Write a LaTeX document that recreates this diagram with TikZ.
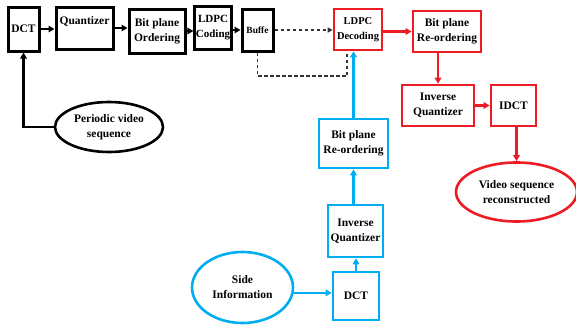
\documentclass[tikz,border=0pt]{standalone}
\usepackage{fontspec}
\setmainfont{Liberation Serif}
\usetikzlibrary{arrows.meta,positioning,shapes.geometric}
\definecolor{decred}{RGB}{237,28,36}
\definecolor{sideblue}{RGB}{0,174,239}

\begin{document}
\begin{tikzpicture}[x=1pt,y=-1pt,
  blk/.style={draw, line width=3pt, inner sep=1pt, align=center, font=\bfseries\fontsize{11.5}{15}\selectfont},
  rbox/.style={blk, draw=decred, line width=2.6pt},
  sibox/.style={blk, draw=sideblue, line width=2.6pt},
  oval/.style={blk, ellipse, line width=2.6pt},
  arr/.style={-{Triangle[length=6pt,width=6.5pt]}, line width=2.3pt},
  dash line/.style={dash pattern=on 3.5pt off 2.5pt, line width=1.2pt, draw=black!80, -{Triangle[length=5pt,width=5pt]}}]
\useasboundingbox (0,0) rectangle (576,327);
% encoder
\node [blk, minimum width=31, minimum height=44] (dct) at (23.5,29) {DCT};
\node [blk, minimum width=57, minimum height=42, text depth=14pt] (quant) at (84.5,28) {Quantizer};
\node [blk, minimum width=56, minimum height=44] (bpo) at (157,31) {Bit plane\\Ordering};
\node [blk, minimum width=36, minimum height=43, font=\bfseries\fontsize{11}{15}\selectfont] (ldpcc) at (213,27.5) {LDPC\\Coding};
\node [blk, minimum width=31, minimum height=42, font=\bfseries\fontsize{9.5}{12}\selectfont] (buf) at (257.5,30) {Buffe};
\node [oval, minimum width=108, minimum height=50] (pvs) at (109,127) {Periodic video\\sequence};
% decoder
\node [rbox, minimum width=48, minimum height=41, font=\bfseries\fontsize{10.5}{15}\selectfont] (ldpcd) at (358,29.5) {LDPC\\Decoding};
\node [rbox, minimum width=68, minimum height=41] (bpr) at (447,31.5) {Bit plane\\Re-ordering};
\node [rbox, minimum width=72, minimum height=41] (iq) at (438,105.5) {Inverse\\Quantizer};
\node [rbox, minimum width=45, minimum height=41] (idct) at (513.5,105.5) {IDCT};
\node [oval, draw=decred, minimum width=121, minimum height=59] (vsr) at (516.5,192) {Video sequence\\reconstructed};
% side information
\node [sibox, minimum width=69, minimum height=49] (bpr2) at (353.5,143.5) {Bit plane\\Re-ordering};
\node [sibox, minimum width=55, minimum height=52] (iq2) at (355.5,231) {Inverse\\Quantizer};
\node [sibox, minimum width=46, minimum height=48] (dct2) at (356,296) {DCT};
\node [oval, draw=sideblue, minimum width=101, minimum height=71] (side) at (242.5,287.5) {Side\\Information};
\coordinate (bufloop) at (347,76);

\draw [arr] (pvs.west) -| (dct.south);
\draw [arr] (dct.east) -- (dct.east -| quant.west);
\draw [arr] (quant.east) -- (quant.east -| bpo.west);
\draw [arr] (bpo.east) -- (bpo.east -| ldpcc.west);
\draw [arr] (buf.west -| ldpcc.east) -- (buf.west);
\draw [dash line] (buf.east) -- (buf.east -| ldpcd.west);
\draw [dash line, -] (buf.south) |- (bufloop) -- (bufloop |- ldpcd.south);
\draw [arr, decred] (bpr.west -| ldpcd.east) -- (bpr.west);
\draw [arr, decred] (bpr.south -| iq.north) -- (iq.north);
\draw [arr, decred] (iq.east) -- (idct.west);
\draw [arr, decred] (idct.south -| vsr.north) -- (vsr.north);
\draw [arr, sideblue] (side.-6) -- (side.-6 -| dct2.west);
\draw [arr, sideblue] (dct2.north) -- (dct2.north |- iq2.south);
\draw [arr, sideblue] (iq2.north -| bpr2.south) -- (bpr2.south);
\draw [arr, sideblue] (bpr2.north) -- (bpr2.north |- ldpcd.south);
\end{tikzpicture}
\end{document}
